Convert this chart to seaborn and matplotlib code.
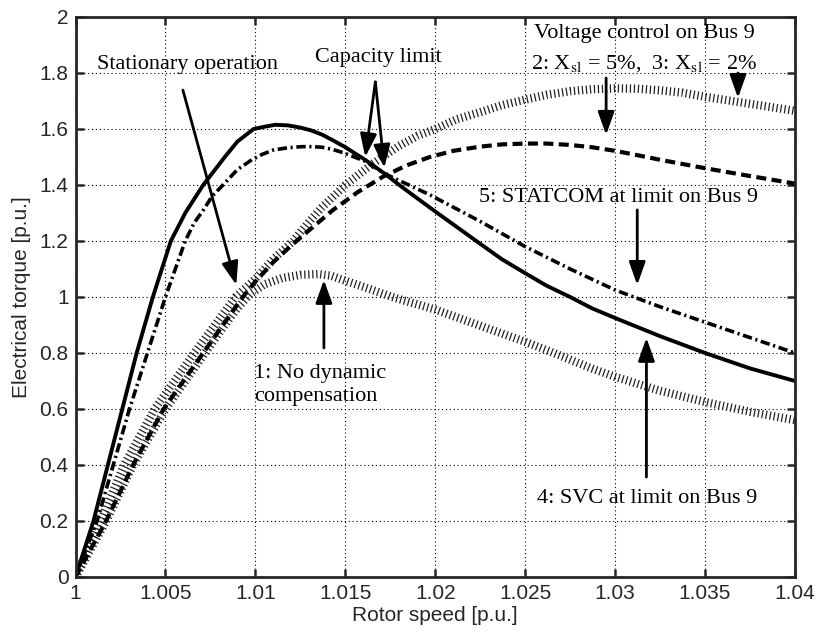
import matplotlib
matplotlib.use("Agg")
import matplotlib.pyplot as plt
import seaborn as sns
import pandas as pd
from matplotlib.ticker import FuncFormatter

# ---- data ----
speed_nocomp = [1.0, 1.0017, 1.0032, 1.0050, 1.0072, 1.0083, 1.0090, 1.0097, 1.0105, 1.0115,
                1.0125, 1.0135, 1.0142, 1.0150, 1.0163, 1.0176, 1.0200, 1.0226, 1.0250,
                1.0262, 1.0287, 1.0300, 1.0325, 1.0350, 1.0375, 1.0400]
torque_nocomp = [0.0, 0.20, 0.40, 0.60, 0.80, 0.90, 0.96, 1.01, 1.045, 1.068,
                 1.079, 1.082, 1.076, 1.058, 1.030, 1.000, 0.955, 0.895, 0.840,
                 0.810, 0.745, 0.715, 0.665, 0.625, 0.590, 0.560]

speed_xsl5 = [1.0, 1.0017, 1.0032, 1.0049, 1.0071, 1.0093, 1.0100, 1.0110, 1.0121, 1.0132,
              1.0143, 1.0157, 1.0171, 1.0184, 1.0197, 1.0210, 1.0225, 1.0237, 1.0250,
              1.0262, 1.0275, 1.0287, 1.0300, 1.0312, 1.0325, 1.0350, 1.0375, 1.0400]
torque_xsl5 = [0.0, 0.20, 0.40, 0.60, 0.80, 1.00, 1.055, 1.125, 1.19, 1.25,
               1.31, 1.375, 1.43, 1.47, 1.50, 1.522, 1.537, 1.545, 1.548,
               1.548, 1.543, 1.535, 1.522, 1.507, 1.490, 1.460, 1.432, 1.405]

speed_xsl2 = [1.0, 1.0014, 1.0027, 1.0044, 1.0066, 1.0089, 1.0100, 1.0110, 1.0121, 1.0130,
              1.0137, 1.0150, 1.0165, 1.0180, 1.0190, 1.0200, 1.0212, 1.0225, 1.0237,
              1.0250, 1.0262, 1.0275, 1.0287, 1.0300, 1.0312, 1.0325, 1.0337, 1.0350,
              1.0362, 1.0375, 1.0387, 1.0400]
torque_xsl2 = [0.0, 0.20, 0.40, 0.60, 0.80, 1.00, 1.065, 1.135, 1.20, 1.27,
               1.32, 1.40, 1.475, 1.54, 1.575, 1.60, 1.635, 1.66, 1.685,
               1.705, 1.722, 1.735, 1.742, 1.745, 1.744, 1.738, 1.730, 1.715,
               1.703, 1.690, 1.678, 1.665]

speed_svc = [1.0, 1.0010, 1.0018, 1.0026, 1.0034, 1.0043, 1.0048, 1.0053, 1.0061, 1.0066,
             1.0071, 1.0077, 1.0083, 1.0090, 1.0099, 1.0105, 1.0111, 1.0118, 1.0125,
             1.0131, 1.0137, 1.0143, 1.0150, 1.0161, 1.0172, 1.0181, 1.0199, 1.0212,
             1.0225, 1.0237, 1.0250, 1.0262, 1.0275, 1.0287, 1.0300, 1.0325, 1.0350,
             1.0375, 1.0400]
torque_svc = [0.0, 0.20, 0.40, 0.60, 0.80, 1.00, 1.10, 1.20, 1.30, 1.35,
              1.40, 1.45, 1.50, 1.555, 1.60, 1.608, 1.615, 1.613, 1.605,
              1.595, 1.58, 1.56, 1.535, 1.49, 1.44, 1.395, 1.31, 1.25,
              1.19, 1.135, 1.085, 1.04, 1.00, 0.96, 0.925, 0.86, 0.80,
              0.745, 0.70]

speed_statcom = [1.0, 1.0012, 1.0021, 1.0030, 1.0040, 1.0050, 1.0061, 1.0066, 1.0071, 1.0076,
                 1.0082, 1.0090, 1.0098, 1.0104, 1.0110, 1.0118, 1.0126, 1.0131, 1.0137,
                 1.0143, 1.0149, 1.0155, 1.0161, 1.0172, 1.0182, 1.0197, 1.0225, 1.0250,
                 1.0275, 1.0300, 1.0325, 1.0350, 1.0375, 1.0400]
torque_statcom = [0.0, 0.20, 0.40, 0.60, 0.80, 1.00, 1.20, 1.265, 1.31, 1.36,
                  1.40, 1.455, 1.49, 1.51, 1.525, 1.533, 1.537, 1.537, 1.535,
                  1.527, 1.515, 1.50, 1.485, 1.44, 1.41, 1.365, 1.27, 1.18,
                  1.10, 1.025, 0.965, 0.91, 0.855, 0.80]

x_ticks = [1.0, 1.005, 1.01, 1.015, 1.02, 1.025, 1.03, 1.035, 1.04]
y_ticks = [0, 0.2, 0.4, 0.6, 0.8, 1.0, 1.2, 1.4, 1.6, 1.8, 2.0]

# ---- style ----
sns.set_style("ticks")
plt.rcParams["font.family"] = ["Liberation Sans", "DejaVu Sans"]
plt.rcParams["mathtext.fontset"] = "stix"

fig = plt.figure(figsize=(8.21, 6.39), dpi=100)
ax = fig.add_axes([75.5 / 821, 62 / 639, 719.5 / 821, 560 / 639])

series = [
    (speed_nocomp, torque_nocomp, dict(lw=6.0, color="#222222", linestyle=(0, (0.15, 0.33)))),
    (speed_xsl2, torque_xsl2, dict(lw=6.0, color="#222222", linestyle=(0, (0.15, 0.33)))),
    (speed_xsl5, torque_xsl5, dict(lw=3.0, color="black", linestyle=(0, (2.4, 1.3)))),
    (speed_statcom, torque_statcom, dict(lw=2.6, color="black", linestyle=(0, (2.6, 1.0, 0.6, 1.0)))),
    (speed_svc, torque_svc, dict(lw=2.8, color="black", linestyle="-")),
]
for xs, ys, kw in series:
    df = pd.DataFrame({"speed": xs, "torque": ys})
    sns.lineplot(data=df, x="speed", y="torque", ax=ax, sort=False, estimator=None,
                 solid_joinstyle="round", **kw)

ax.set_xlim(1.0, 1.04)
ax.set_ylim(0, 2)
ax.set_xticks(x_ticks)
ax.set_yticks(y_ticks)
ax.xaxis.set_major_formatter(FuncFormatter(lambda v, p: f"{round(v, 4):g}"))
ax.yaxis.set_major_formatter(FuncFormatter(lambda v, p: f"{round(v, 4):g}"))
ax.tick_params(direction="in", length=6, width=1.8, labelsize=15, top=True, right=True,
               pad=5)
for s in ax.spines.values():
    s.set_visible(True)
    s.set_linewidth(2.0)
ax.grid(True, color="black", linestyle=(0, (1, 2.5)), linewidth=0.8)
ax.set_axisbelow(True)
ax.set_xlabel("Rotor speed [p.u.]", fontsize=15, labelpad=2)
ax.set_ylabel("Electrical torque [p.u.]", fontsize=15, labelpad=6)

# ---- annotations ----
serif = dict(family=["Liberation Serif", "DejaVu Serif"], fontsize=16, color="black")
ax.text(1.0012, 1.83, "Stationary operation", ha="left", va="center", **serif)
ax.text(1.01684, 1.857, "Capacity limit", ha="center", va="center", **serif)
ax.text(1.0316, 1.94, "Voltage control on Bus 9", ha="center", va="center", **serif)
ax.text(1.0316, 1.835, r"2: X$_{\rm sl}$ = 5%,  3: X$_{\rm sl}$ = 2%", ha="center",
        va="center", **serif)
ax.text(1.0302, 1.357, "5: STATCOM at limit on Bus 9", ha="center", va="center", **serif)
ax.text(1.0318, 0.282, "4: SVC at limit on Bus 9", ha="center", va="center", **serif)
ax.text(1.00995, 0.686, "1: No dynamic\ncompensation", ha="left", va="center",
        linespacing=1.25, **serif)

arrow = dict(arrowstyle="-|>,head_length=0.7,head_width=0.25", lw=2.0, color="black",
             shrinkA=0, shrinkB=0, mutation_scale=20)
arrows = [
    ((1.00597, 1.739), (1.00894, 1.043)),
    ((1.01667, 1.768), (1.01611, 1.50)),
    ((1.01667, 1.768), (1.01717, 1.461)),
    ((1.0295, 1.782), (1.0295, 1.579)),
    ((1.03683, 1.80), (1.03683, 1.711)),
    ((1.03123, 1.311), (1.03123, 1.043)),
    ((1.03174, 0.357), (1.03174, 0.854)),
    ((1.01381, 0.818), (1.01381, 1.061)),
]
for start, end in arrows:
    ax.annotate("", xy=end, xytext=start, arrowprops=arrow)

fig.savefig("out.png", dpi=100)
